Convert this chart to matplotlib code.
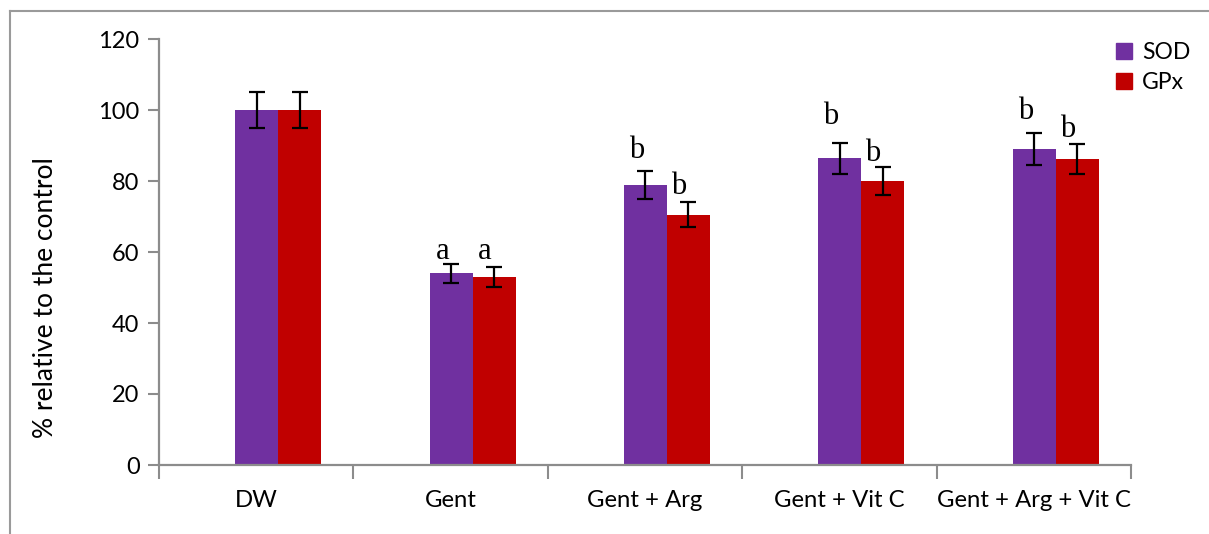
import matplotlib
matplotlib.use("Agg")
import matplotlib.pyplot as plt
from matplotlib.lines import Line2D
import numpy as np

# ---- data ----
groups = ["DW", "Gent", "Gent + Arg", "Gent + Vit C", "Gent + Arg + Vit C"]
sod = [100, 54.0, 78.8, 86.4, 89.0]
sod_err = [5.1, 2.7, 3.9, 4.4, 4.5]
gpx = [100, 53.0, 70.5, 80.0, 86.2]
gpx_err = [5.1, 2.75, 3.55, 4.0, 4.3]
sod_letters = ["", "a", "b", "b", "b"]
gpx_letters = ["", "a", "b", "b", "b"]
sod_letter_y = [None, 60.1, 88.7, 98.1, 99.5]
gpx_letter_y = [None, 60.1, 78.4, 87.8, 94.6]
yticks = [0, 20, 40, 60, 80, 100, 120]

PURPLE = "#7030A0"
RED = "#C00000"
AX = "#8c8c8c"
FONT = "Lato"

plt.rcParams["font.family"] = [FONT, "DejaVu Sans"]

W, H = 1209, 534
fig = plt.figure(figsize=(W / 100, H / 100), dpi=100)
ax = fig.add_axes([159 / W, 1 - 465 / H, (1131 - 159) / W, (465 - 39) / H])

x = np.arange(len(groups))
bw = 0.221
shift = 0.113
xs = x + shift - bw / 2
xg = x + shift + bw / 2

ax.bar(xs, sod, width=bw, color=PURPLE, zorder=2, label="SOD")
ax.bar(xg, gpx, width=bw, color=RED, zorder=2, label="GPx")
ekw = dict(fmt="none", ecolor="black", elinewidth=1.6, capsize=5.5, capthick=1.6, zorder=3)
ax.errorbar(xs, sod, yerr=sod_err, **ekw)
ax.errorbar(xg, gpx, yerr=gpx_err, **ekw)

for xi, lab, yy in zip(xs, sod_letters, sod_letter_y):
    if lab:
        ax.text(xi - 0.045, yy, lab, ha="center", va="center",
                family="Liberation Serif", fontsize=22)
for xi, lab, yy in zip(xg, gpx_letters, gpx_letter_y):
    if lab:
        ax.text(xi - 0.05, yy, lab, ha="center", va="center",
                family="Liberation Serif", fontsize=22)

ax.set_xlim(-0.5, len(groups) - 0.5)
ax.set_ylim(0, 120)
ax.set_yticks(yticks)
ax.set_yticklabels([str(t) for t in yticks])

# category boundaries as major ticks, labels as minor
ax.set_xticks(np.arange(-0.5, len(groups), 1.0))
ax.set_xticklabels([])
ax.set_xticks(x, minor=True)
ax.set_xticklabels(groups, minor=True)
ax.tick_params(axis="x", which="major", length=10, width=1.5, color=AX, direction="out")
ax.tick_params(axis="x", which="minor", length=0, pad=18, labelsize=17.2)
ax.tick_params(axis="y", length=8, width=1.5, color=AX, labelsize=17, pad=6)

for s in ["top", "right"]:
    ax.spines[s].set_visible(False)
for s in ["left", "bottom"]:
    ax.spines[s].set_color(AX)
    ax.spines[s].set_linewidth(1.6)

ax.set_ylabel("% relative to the control", fontsize=19)
ax.yaxis.set_label_coords(-0.104, 0.394)

handles = [plt.Rectangle((0, 0), 1, 1, color=PURPLE), plt.Rectangle((0, 0), 1, 1, color=RED)]
ax.legend(handles, ["SOD", "GPx"], loc="upper left", bbox_to_anchor=(1095 / W, 1 - 21 / H),
          bbox_transform=fig.transFigure, frameon=False, fontsize=16.5,
          handlelength=0.7, handleheight=0.7, handletextpad=0.45, labelspacing=0.42)

# outer frame (top and left only visible)
fig.add_artist(Line2D([10 / W, 1], [1 - 11 / H, 1 - 11 / H], color="#9a9a9a", lw=1.5,
                      transform=fig.transFigure))
fig.add_artist(Line2D([10 / W, 10 / W], [0, 1 - 11 / H], color="#9a9a9a", lw=1.5,
                      transform=fig.transFigure))

fig.savefig("out.png", dpi=100)
